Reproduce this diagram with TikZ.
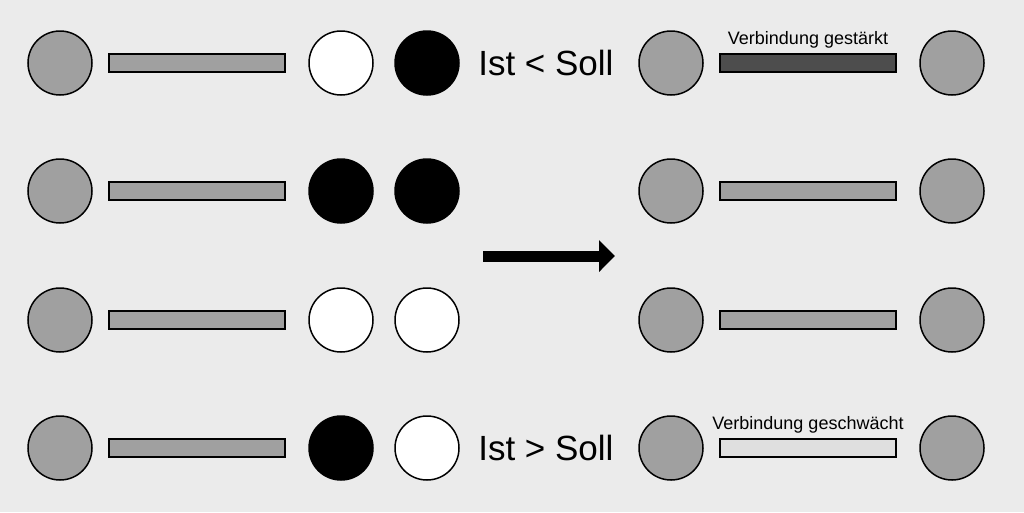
\documentclass[tikz,border=0pt]{standalone}
\usepackage{fontspec}
\setmainfont{Liberation Sans}
\usetikzlibrary{arrows.meta,positioning}
\definecolor{canvas}{HTML}{EBEBEB}
\definecolor{cell}{HTML}{A0A0A0}
\definecolor{strong}{HTML}{4D4D4D}
\definecolor{weak}{HTML}{DFDFDF}

\begin{document}
\begin{tikzpicture}[x=1pt,y=-1pt,
  neuron/.style={circle,draw=black,line width=1.5pt,minimum size=64pt,inner sep=0pt},
  synapse/.style={draw=black,line width=1.5pt,minimum width=176pt,minimum height=18pt,inner sep=0pt},
  bigtext/.style={font=\fontsize{35}{42}\selectfont},
  smalltext/.style={font=\fontsize{18}{21}\selectfont}]
  \fill[canvas] (0,0) rectangle (1024,512);
  \foreach \r/\y/\ic/\sc/\link in {%
    1/63/white/black/strong,
    2/191/black/black/cell,
    3/320/white/white/cell,
    4/448/black/white/weak}
  {
    \node[neuron,fill=cell] (pre\r) at (60,\y) {};
    \node[synapse,fill=cell] (syn\r) at (197,\y) {};
    \node[neuron,fill=\ic] (ist\r) at (341,\y) {};
    \node[neuron,fill=\sc] (soll\r) at (427,\y) {};
    \node[neuron,fill=cell] (post\r) at (671,\y) {};
    \node[synapse,fill=\link] (new\r) at (808,\y) {};
    \node[neuron,fill=cell] (out\r) at (952,\y) {};
  }
  \node[bigtext,right=15pt of soll1] (cmp1) {Ist < Soll};
  \node[bigtext,right=15pt of soll4] (cmp4) {Ist > Soll};
  \node[smalltext,above=1pt of new1] (lab1) {Verbindung gestärkt};
  \node[smalltext,above=1pt of new4] (lab4) {Verbindung geschwächt};
  % learning step
  \coordinate (from) at (483,256);
  \coordinate (to) at (615,256);
  \draw[line width=11pt,-{Triangle[length=16pt,width=31pt]}] (from) -- (to);
\end{tikzpicture}
\end{document}
